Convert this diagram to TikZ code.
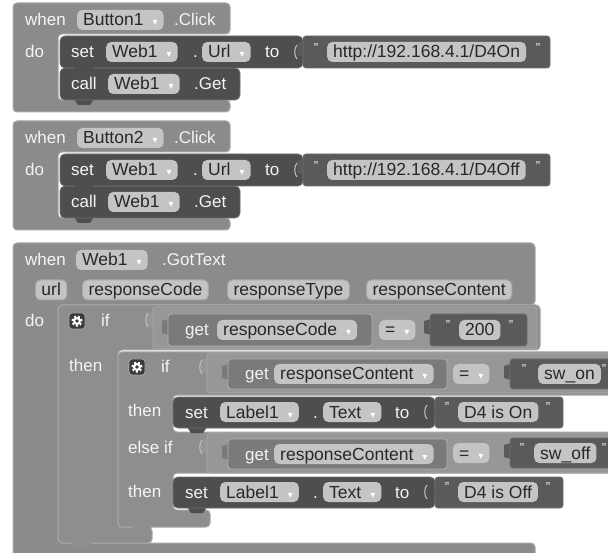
\documentclass[tikz,border=0pt]{standalone}
\usepackage{fontspec}
\setmainfont{Liberation Sans}
\newfontfamily\symf{DejaVu Sans}
\definecolor{evc}{HTML}{8B8B8B}
\definecolor{evd}{HTML}{A8A8A8}
\definecolor{ifc}{HTML}{8E8E8E}
\definecolor{cmpc}{HTML}{979797}
\definecolor{getc}{HTML}{7A7A7A}
\definecolor{setc}{HTML}{4E4E4E}
\definecolor{setd}{HTML}{6E6E6E}
\definecolor{txtc}{HTML}{5A5A5A}
\definecolor{pillc}{HTML}{C4C4C4}
\definecolor{pillt}{HTML}{282828}
\definecolor{labc}{HTML}{F4F4F4}
\definecolor{gearc}{HTML}{3A3A3A}
\newcommand\lf{\fontsize{17}{17}\selectfont}
\newcommand\pf{\fontsize{17.5}{17.5}\selectfont}
\newcommand\dd{\hspace{9pt}{\symf\fontsize{10}{10}\selectfont\textcolor{white}{▾}}\hspace{4pt}}
\newcommand\qm{\symbol{34}}
\tikzset{
  lbl/.style={anchor=west, inner sep=0pt, text=labc, font=\lf, text height=13pt, text depth=1pt},
  pill/.style={anchor=west, fill=pillc, rounded corners=5pt, text=pillt, font=\pf,
     inner xsep=6pt, inner ysep=3pt, text height=13pt, text depth=1pt},
  ppill/.style={pill, draw=evd, line width=1pt},
  qt/.style={anchor=center, inner sep=0pt, text=labc, font=\fontsize{13}{13}\selectfont},
  evb/.style={fill=evc, draw=evd, line width=1pt, rounded corners=4pt},
  ifb/.style={fill=ifc, draw=evd, line width=1pt, rounded corners=4pt},
  cmpb/.style={fill=cmpc, draw=evd, line width=0.8pt, rounded corners=3pt},
  getb/.style={fill=getc, draw=gray!60, line width=0.8pt, rounded corners=3pt},
  setb/.style={fill=setc, draw=setd, line width=0.8pt, rounded corners=5pt},
  txtb/.style={fill=txtc, draw=setd, line width=0.8pt, rounded corners=3pt},
  gearbox/.style={fill=gearc, draw=evd, line width=0.8pt, rounded corners=3pt, minimum size=16pt, inner sep=0pt},
}
% value tab on the left side of a value block: x, ytop, colour
\newcommand\vtab[3]{\fill[#3] ({#1+1},{#2+5}) -- ({#1-6},{#2+7}) -- ({#1-6},{#2+19}) -- ({#1+1},{#2+21}) -- cycle;}
% statement bump below a block: x(left), ybottom, colour
\newcommand\sbump[3]{\fill[#3] ({#1+14},{#2-1}) -- ({#1+18},{#2+5}) -- ({#1+30},{#2+5}) -- ({#1+34},{#2-1}) -- cycle;}
% socket highlight
\newcommand\sock[2]{\draw[evd!70!white, line width=1pt] ({#1+2},{#2-7}) .. controls ({#1-1},{#2-4}) and ({#1-1},{#2+4}) .. ({#1+2},{#2+7});}
% gear decoration at a named node
\newcommand\gear[1]{%
  \draw[white, line width=2.2pt, dash pattern=on 2pt off 2pt] (#1.center) circle (4.6pt);
  \fill[white] (#1.center) circle (4pt);
  \fill[gearc] (#1.center) circle (1.8pt);}
% click event block: y offset, button, url, suffix
\newcommand\clickblock[4]{%
  \path[evb] (13,{3+#1}) -- (230,{3+#1}) -- (230,{34+#1}) -- (58,{34+#1}) -- (58,{100+#1})
     -- (230,{100+#1}) -- (230,{112+#1}) -- (13,{112+#1}) -- cycle;
  \node[lbl] (w#4) at (25,{20+#1}) {when};
  \node[pill] (b#4) at (77,{20+#1}) {#2\dd};
  \node[lbl] (c#4) at (174,{20+#1}) {.Click};
  \node[lbl] (do#4) at (25,{52+#1}) {do};
  \sbump{60}{100+#1}{setc}
  \path[setb] (60,{68+#1}) -- (240,{68+#1}) -- (240,{100+#1}) -- (60,{100+#1}) -- cycle;
  \path[setb] (60,{36+#1}) -- (303,{36+#1}) -- (303,{68+#1}) -- (60,{68+#1}) -- cycle;
  \sbump{60}{68+#1}{setc}
  \vtab{303}{36+#1}{txtc}
  \path[txtb] (303,{36+#1}) -- (550,{36+#1}) -- (550,{68+#1}) -- (303,{68+#1}) -- cycle;
  \sock{295}{52+#1}
  \node[lbl] (s#4) at (71,{52+#1}) {set};
  \node[pill] (sw#4) at (106,{52+#1}) {Web1\dd};
  \node[lbl] (sd#4) at (193,{52+#1}) {.};
  \node[pill] (su#4) at (202,{52+#1}) {Url\dd};
  \node[lbl] (st#4) at (265,{52+#1}) {to};
  \node[qt] (qa#4) at (316,{48+#1}) {\qm};
  \node[pill] (url#4) at (327,{52+#1}) {#3};
  \node[qt] (qb#4) at (538,{48+#1}) {\qm};
  \node[lbl] (k#4) at (71,{84+#1}) {call};
  \node[pill] (kw#4) at (108,{84+#1}) {Web1\dd};
  \node[lbl] (kg#4) at (194,{84+#1}) {.Get};
}
\begin{document}
\begin{tikzpicture}[x=1pt,y=-1pt]
\useasboundingbox[fill=white] (0,0) rectangle (608,553);

\clickblock{0}{Button1}{http://192.168.4.1/D4On}{1}
\clickblock{118}{Button2}{http://192.168.4.1/D4Off}{2}

% ---------- GotText event ----------
\path[evb] (13,243) -- (535,243) -- (535,305) -- (58,305) -- (58,543) -- (535,543)
   -- (535,560) -- (13,560) -- cycle;
\node[lbl] (w3) at (25,260) {when};
\node[pill] (b3) at (76,260) {Web1\dd};
\node[lbl] (gt3) at (162,260) {.GotText};
\node[ppill] (p1) at (35,290) {url};
\node[ppill] (p2) at (82,290) {responseCode};
\node[ppill] (p3) at (227,290) {responseType};
\node[ppill] (p4) at (366,290) {responseContent};
\node[lbl] (do3) at (25,321) {do};

% outer if
\path[ifb] (58,305) -- (540,305) -- (540,350) -- (118,350) -- (118,527) -- (152,527)
   -- (152,543) -- (58,543) -- cycle;
\sbump{58}{543}{ifc}
\node[gearbox] (g1) at (77,321) {};
\gear{g1}
\node[lbl] (if1) at (101,321) {if};
\node[lbl] (th1) at (69,366) {then};
% compare 1
\vtab{153}{307}{cmpc}
\path[cmpb] (153,307) -- (537,307) -- (537,349) -- (153,349) -- cycle;
\sock{146}{320}
\vtab{168}{314}{getc}
\path[getb] (168,314) -- (372,314) -- (372,346) -- (168,346) -- cycle;
\node[lbl] (ge1) at (185,330) {get};
\node[pill] (gp1) at (217,330) {responseCode\dd};
\node[pill] (eq1) at (379,330) {=\dd};
\vtab{430}{314}{txtc}
\path[txtb] (430,314) -- (527,314) -- (527,346) -- (430,346) -- cycle;
\node[qt] (q11) at (448,325) {\qm};
\node[pill] (v1) at (459,330) {200};
\node[qt] (q12) at (511,325) {\qm};

% inner if
\path[ifb] (118,352) -- (620,352) -- (620,395) -- (173,395) -- (173,432) -- (620,432)
   -- (620,473) -- (173,473) -- (173,510) -- (210,510) -- (210,527) -- (118,527) -- cycle;
\sbump{118}{527}{ifc}
\node[gearbox] (g2) at (137,367) {};
\gear{g2}
\node[lbl] (if2) at (161,367) {if};
\node[lbl] (th2) at (128,411) {then};
\node[lbl] (ei2) at (128,447) {else if};
\node[lbl] (th3) at (128,491) {then};

% compare 2
\vtab{207}{353}{cmpc}
\path[cmpb] (207,353) -- (620,353) -- (620,393) -- (207,393) -- cycle;
\sock{200}{367}
\vtab{228}{359}{getc}
\path[getb] (228,359) -- (447,359) -- (447,389) -- (228,389) -- cycle;
\node[lbl] (ge2) at (245,374) {get};
\node[pill] (gp2) at (274,374) {responseContent\dd};
\node[pill] (eq2) at (453,374) {=\dd};
\vtab{510}{359}{txtc}
\path[txtb] (510,359) -- (620,359) -- (620,389) -- (510,389) -- cycle;
\node[qt] (q21) at (524,369) {\qm};
\node[pill] (v2) at (538,374) {sw\_on};
\node[qt] (q22) at (604,369) {\qm};

% set Label1 (on)
\sbump{173}{428}{setc}
\vtab{435}{397}{txtc}
\path[setb] (173,397) -- (435,397) -- (435,428) -- (173,428) -- cycle;
\path[txtb] (435,397) -- (563,397) -- (563,428) -- (435,428) -- cycle;
\sock{425}{412}
\node[lbl] (s3) at (185,412) {set};
\node[pill] (sl3) at (220,412) {Label1\dd};
\node[lbl] (sd3) at (313,412) {.};
\node[pill] (stx3) at (323,412) {Text\dd};
\node[lbl] (st3) at (395,412) {to};
\node[qt] (q31) at (447,407) {\qm};
\node[pill] (v3) at (458,412) {D4 is On};
\node[qt] (q32) at (548,407) {\qm};

% compare 3
\vtab{207}{433}{cmpc}
\path[cmpb] (207,433) -- (620,433) -- (620,473) -- (207,473) -- cycle;
\sock{200}{447}
\vtab{228}{439}{getc}
\path[getb] (228,439) -- (447,439) -- (447,469) -- (228,469) -- cycle;
\node[lbl] (ge4) at (245,454) {get};
\node[pill] (gp4) at (274,454) {responseContent\dd};
\node[pill] (eq4) at (453,453) {=\dd};
\vtab{510}{438}{txtc}
\path[txtb] (510,438) -- (620,438) -- (620,468) -- (510,468) -- cycle;
\node[qt] (q41) at (522,448) {\qm};
\node[pill] (v4) at (534,453) {sw\_off};
\node[qt] (q42) at (604,448) {\qm};

% set Label1 (off)
\sbump{173}{508}{setc}
\vtab{435}{477}{txtc}
\path[setb] (173,477) -- (435,477) -- (435,508) -- (173,508) -- cycle;
\path[txtb] (435,477) -- (563,477) -- (563,508) -- (435,508) -- cycle;
\sock{425}{492}
\node[lbl] (s5) at (185,492) {set};
\node[pill] (sl5) at (220,492) {Label1\dd};
\node[lbl] (sd5) at (313,492) {.};
\node[pill] (stx5) at (323,492) {Text\dd};
\node[lbl] (st5) at (395,492) {to};
\node[qt] (q51) at (447,487) {\qm};
\node[pill] (v5) at (458,492) {D4 is Off};
\node[qt] (q52) at (548,487) {\qm};
\end{tikzpicture}
\end{document}
